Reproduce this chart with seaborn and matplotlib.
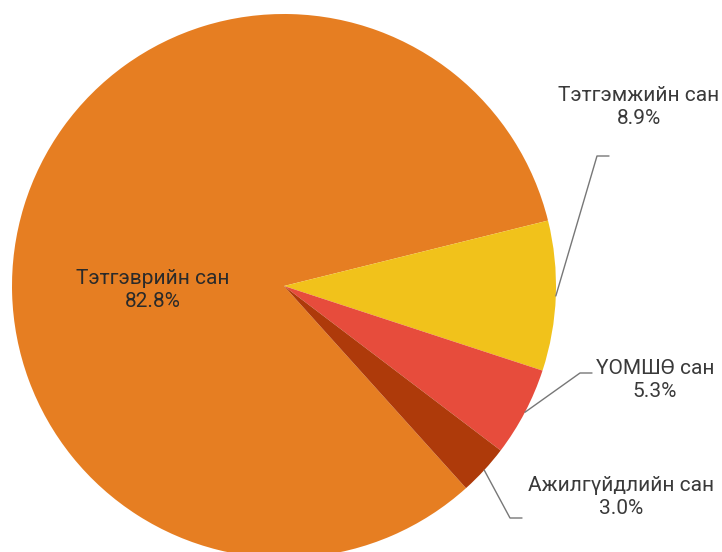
import numpy as np
import seaborn as sns
import matplotlib.pyplot as plt

# data
funds = ["Тэтгэврийн сан", "Тэтгэмжийн сан", "ҮОМШӨ сан", "Ажилгүйдлийн сан"]
shares = [82.8, 8.9, 5.3, 3.0]
colors = ["#E67E22", "#F1C21B", "#E74C3C", "#AE3A0A"]

sns.set_theme(style="white")
plt.rcParams['font.family'] = ['Roboto', 'DejaVu Sans']

W, H = 722, 552
fig = plt.figure(figsize=(W / 100, H / 100), dpi=100)
ax = fig.add_axes([0, 0, 1, 1])

cx, cy, r = 284, H - 286, 272
start = -48
wedges, _ = ax.pie(shares, colors=colors, startangle=start, counterclock=False,
                   center=(cx, cy), radius=r, wedgeprops=dict(linewidth=0),
                   frame=True)
ax.set_xlim(0, W)
ax.set_ylim(0, H)
ax.set_aspect("equal")
ax.axis("off")

# label layout (pixel coords from top-left): elbow point, text centre
layout = [
    None,
    ((597, 156), (639, 107)),
    ((580, 373), (655, 380)),
    ((510, 518), (621, 497)),
]

labels = [f"{f}\n{s:.1f}%" for f, s in zip(funds, shares)]

for w, lab, lay in zip(wedges, labels, layout):
    if lay is None:
        ax.text(153, H - 290, lab, ha="center", va="center", fontsize=15,
                color="#2a2a2a", linespacing=1.25)
        continue
    mid = np.deg2rad((w.theta1 + w.theta2) / 2)
    x0, y0 = cx + r * np.cos(mid), cy + r * np.sin(mid)
    (ex, ey), (tx, ty) = lay
    ax.plot([x0, ex, ex + 12], [y0, H - ey, H - ey], color="#777777", lw=1)
    ax.text(tx, H - ty, lab, ha="center", va="center", fontsize=15,
            color="#3a3a3a", linespacing=1.25)

fig.savefig("out.png", dpi=100)
